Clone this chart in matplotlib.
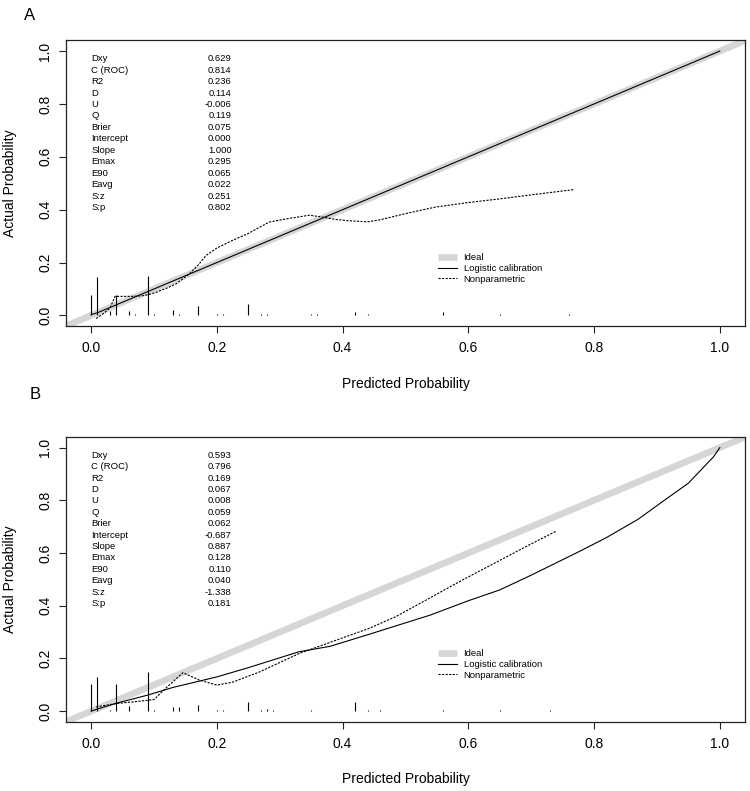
import matplotlib.pyplot as plt
from matplotlib.lines import Line2D

plt.rcParams['font.family'] = ['Liberation Sans', 'DejaVu Sans']

# statistics printed in the upper left corner
stat_names = ['Dxy', 'C (ROC)', 'R2', 'D', 'U', 'Q', 'Brier', 'Intercept',
              'Slope', 'Emax', 'E90', 'Eavg', 'S:z', 'S:p']
stats_a = ['0.629', '0.814', '0.236', '0.114', '-0.006', '0.119', '0.075',
           '0.000', '1.000', '0.295', '0.065', '0.022', '0.251', '0.802']
stats_b = ['0.593', '0.796', '0.169', '0.067', '0.008', '0.059', '0.062',
           '-0.687', '0.887', '0.128', '0.110', '0.040', '-1.338', '0.181']

# logistic calibration curves
logis_a_x = [0.0, 0.01, 0.04, 0.09, 0.13, 0.17, 0.25, 0.35, 0.44, 0.56, 0.65, 0.76, 0.88, 1.0]
logis_a_y = [0.003, 0.01, 0.04, 0.09, 0.13, 0.17, 0.25, 0.35, 0.44, 0.56, 0.65, 0.76, 0.88, 1.0]
logis_b_x = [0.0, 0.01, 0.04, 0.09, 0.13, 0.2, 0.25, 0.33, 0.38, 0.44, 0.54, 0.6,
             0.65, 0.7, 0.78, 0.82, 0.87, 0.91, 0.95, 0.97, 0.99, 1.0]
logis_b_y = [0.0, 0.008, 0.03, 0.061, 0.09, 0.13, 0.165, 0.225, 0.246, 0.29,
             0.365, 0.419, 0.46, 0.516, 0.61, 0.659, 0.728, 0.797, 0.865, 0.915,
             0.965, 1.0]

# nonparametric (loess) curves
np_a_x = [0.008, 0.02, 0.03, 0.038, 0.065, 0.08, 0.09, 0.103, 0.12, 0.135, 0.156,
          0.17, 0.183, 0.2, 0.225, 0.25, 0.283, 0.31, 0.347, 0.368, 0.389, 0.41,
          0.432, 0.44, 0.46, 0.5, 0.548, 0.6, 0.654, 0.7, 0.768]
np_a_y = [-0.012, 0.008, 0.028, 0.072, 0.072, 0.074, 0.078, 0.087, 0.103, 0.119,
          0.157, 0.19, 0.227, 0.255, 0.284, 0.31, 0.353, 0.365, 0.379, 0.372,
          0.363, 0.358, 0.355, 0.354, 0.362, 0.385, 0.41, 0.427, 0.442, 0.456, 0.476]
np_b_x = [0.008, 0.04, 0.07, 0.1, 0.12, 0.146, 0.172, 0.2, 0.225, 0.268, 0.331,
          0.379, 0.442, 0.485, 0.591, 0.697, 0.739]
np_b_y = [0.016, 0.029, 0.036, 0.044, 0.09, 0.146, 0.118, 0.099, 0.11, 0.149,
          0.219, 0.26, 0.314, 0.359, 0.498, 0.631, 0.682]

# distribution of predicted probabilities (spikes above 0)
rug_a_x = [0.0, 0.01, 0.03, 0.04, 0.06, 0.07, 0.09, 0.10, 0.13, 0.14, 0.17, 0.20,
           0.21, 0.25, 0.27, 0.28, 0.35, 0.36, 0.42, 0.44, 0.56, 0.65, 0.76]
rug_a_h = [0.079, 0.147, 0.016, 0.076, 0.018, 0.005, 0.149, 0.005, 0.022, 0.007,
           0.037, 0.004, 0.004, 0.042, 0.005, 0.005, 0.004, 0.004, 0.011, 0.004,
           0.014, 0.004, 0.004]
rug_b_x = [0.0, 0.01, 0.03, 0.04, 0.06, 0.09, 0.10, 0.13, 0.14, 0.17, 0.20, 0.21,
           0.25, 0.27, 0.28, 0.29, 0.35, 0.42, 0.44, 0.46, 0.56, 0.65, 0.73]
rug_b_h = [0.102, 0.13, 0.005, 0.102, 0.02, 0.149, 0.005, 0.016, 0.016, 0.025,
           0.005, 0.005, 0.035, 0.005, 0.008, 0.005, 0.005, 0.036, 0.005, 0.005,
           0.005, 0.005, 0.005]

ticks = [0.0, 0.2, 0.4, 0.6, 0.8, 1.0]
tick_labels = ['0.0', '0.2', '0.4', '0.6', '0.8', '1.0']

fig = plt.figure(figsize=(7.5, 7.91), dpi=100)
ax_a = fig.add_axes([0.088, 0.5879, 0.9053, 0.3609])
ax_b = fig.add_axes([0.088, 0.0876, 0.9053, 0.3599])

gray = '#d6d6d6'


def calib_panel(ax, lx, ly, nx, ny, rx, rh, stats):
    ax.axline((0, 0), slope=1, color=gray, lw=4.8, solid_capstyle='butt', zorder=1)
    ax.plot(lx, ly, color='black', lw=0.8, zorder=3)
    ax.plot(nx, ny, color='black', lw=0.8, dashes=(2, 1.2), zorder=3)
    ax.vlines(rx, 0, rh, color='black', lw=0.8, zorder=3)

    for i, (name, val) in enumerate(zip(stat_names, stats)):
        y = 0.971 - i * 0.0433
        ax.text(0.0, y, name, fontsize=6.8, ha='left', va='center')
        ax.text(0.2235, y, val, fontsize=6.8, ha='right', va='center')

    handles = [Line2D([], [], color=gray, lw=4.8, solid_capstyle='butt'),
               Line2D([], [], color='black', lw=0.8),
               Line2D([], [], color='black', lw=0.8, dashes=(2, 1.2))]
    ax.legend(handles, ['Ideal', 'Logistic calibration', 'Nonparametric'],
              loc='upper left', bbox_to_anchor=(0.551, 0.236),
              bbox_transform=ax.transData, frameon=False, fontsize=6.8,
              handlelength=2.05, handletextpad=0.7, labelspacing=0.2,
              borderpad=0, borderaxespad=0)

    ax.set_xlim(-0.04, 1.04)
    ax.set_ylim(-0.04, 1.04)
    ax.set_xticks(ticks)
    ax.set_xticklabels(tick_labels)
    ax.set_yticks(ticks)
    ax.set_yticklabels(tick_labels, rotation=90, va='center')
    ax.tick_params(direction='out', length=5, width=0.8, labelsize=10, color='#222222')
    ax.tick_params(axis='x', pad=6)
    ax.tick_params(axis='y', pad=5)
    for s in ax.spines.values():
        s.set_linewidth(0.9)
        s.set_color('#222222')

    ax.set_xlabel('Predicted Probability', fontsize=10)
    ax.set_ylabel('Actual Probability', fontsize=10)
    ax.xaxis.label.set_va('center')
    ax.yaxis.label.set_va('center')
    ax.xaxis.set_label_coords(0.5, -0.203)
    ax.yaxis.set_label_coords(-0.0825, 0.5)


calib_panel(ax_a, logis_a_x, logis_a_y, np_a_x, np_a_y, rug_a_x, rug_a_h, stats_a)
calib_panel(ax_b, logis_b_x, logis_b_y, np_b_x, np_b_y, rug_b_x, rug_b_h, stats_b)

fig.text(30 / 750, 1 - 15 / 791, 'A', fontsize=12, ha='center', va='center')
fig.text(35 / 750, 1 - 395 / 791, 'B', fontsize=12, ha='center', va='center')

fig.savefig('out.png', dpi=100)
